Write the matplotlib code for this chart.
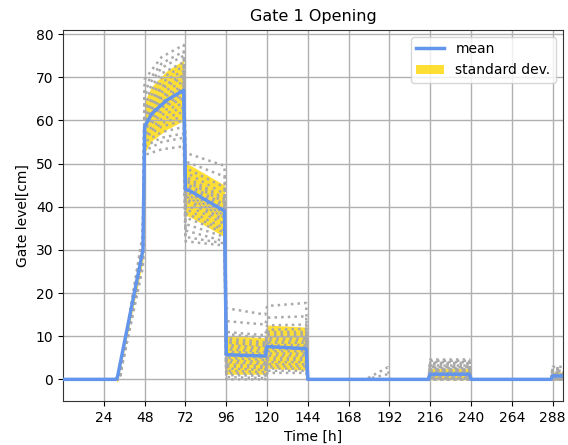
import matplotlib
matplotlib.use("Agg")
import matplotlib.pyplot as plt
from matplotlib.lines import Line2D
from matplotlib.patches import Patch

# -------------------------------
# Mean / standard deviation
# -------------------------------
mean_t = [0, 31, 32, 47, 48, 52, 61, 71, 72, 75, 95, 96, 97, 119, 120, 143, 144,
          215, 216, 239, 240, 287, 288, 294]
mean_v = [0, 0, 0.5, 30, 58.5, 61.5, 64.7, 67, 44, 43.6, 39, 5.8, 5.7, 5.4, 7.6, 7.1, 0,
          0, 1.2, 1.2, 0, 0, 0.8, 0.8]
std_v = [0, 0, 1.2, 2.5, 6, 6.3, 6.8, 7, 6, 6, 6, 4.5, 4.5, 4.2, 5, 5, 0,
         0, 1.3, 1.3, 0, 0, 0.9, 0.9]

# -------------------------------
# Individual scenarios (values at segment ends)
# -------------------------------
scen_t = [0, 33, 47, 48, 58, 71, 72, 95, 96, 119, 120, 143, 144,
          178, 191, 192, 215, 216, 239, 240, 287, 288, 294]

ramp_end = [26, 27, 27.5, 28, 28.5, 29, 29, 29.5, 30, 30, 30, 30.5,
            30.5, 31, 31, 31.5, 31.5, 32, 32, 32.5, 33, 33, 33.5, 34]
a_start = [52, 53, 54, 55, 56, 56.5, 57, 58, 58.5, 59, 59.5, 60,
           60.5, 61, 61.5, 62, 62.5, 63, 64, 65, 66, 67, 68, 69.5]
a_mid = [53.3, 55, 56, 57.3, 58.6, 59.4, 60.3, 61.3, 62.1, 63, 63.4, 63.9,
         64.4, 65.2, 65.7, 66.5, 67.4, 67.9, 68.9, 69.9, 70.9, 72.2, 73.2, 74.7]
a_end = [54, 56, 57, 58.5, 60, 61, 62, 63, 64, 65, 65.5, 66,
         66.5, 67.5, 68, 69, 70, 70.5, 71.5, 72.5, 73.5, 75, 76, 77.5]
b_start = [32, 33, 34.5, 36, 37.5, 38.5, 39.5, 40.5, 41.5, 42, 42.5, 43,
           43.5, 44, 44.5, 45, 45.5, 46, 46.5, 47, 48, 49, 50.5, 52.5]
b_end = [31, 31.5, 32, 33, 34, 34.5, 35, 36, 36.5, 37, 37.5, 38,
         38.5, 39, 39.5, 40, 40.5, 41, 41.5, 42, 43, 44.5, 47, 49.5]
c_start = [0, 0.5, 1, 1.5, 2, 2.5, 3, 3.5, 4, 4.5, 5, 5.5,
           6, 6.5, 7, 7.5, 8, 8.5, 9, 9.5, 10.5, 11, 13.5, 16.5]
c_end = [0, 0.3, 0.8, 1.2, 1.7, 2.2, 2.6, 3.1, 3.5, 4, 4.5, 5,
         5.4, 5.9, 6.3, 6.8, 7.3, 7.7, 8.2, 8.6, 9.6, 10.2, 12.7, 15]
d_start = [1.5, 2, 2.5, 3, 3.5, 4, 4.5, 5, 5.5, 6, 6.5, 7,
           7.5, 8, 8.5, 9, 9.5, 10, 10.5, 11, 11.5, 12.5, 14.3, 17]
d_end = [1.5, 2, 2.5, 3, 3.5, 4, 4.5, 5, 5.5, 6, 6.5, 7,
         7.5, 8, 8.5, 9, 9.5, 10, 10.5, 11, 11.7, 12.7, 14.6, 17.7]
bump = [0, 0, 0, 0, 0, 0, 0, 0, 0, 0, 0, 0,
        0, 0, 0, 0, 0, 0, 0, 0, 0, 0, 1.2, 2.8]
e_val = [0, 0, 0, 0.3, 0.5, 0.7, 0.9, 1, 1.2, 1.4, 1.6, 1.8,
         2, 2.2, 2.4, 2.6, 2.8, 3, 3.2, 3.5, 3.8, 4, 4.3, 4.6]
f_val = [0, 0, 0, 0, 0, 0.2, 0.3, 0.4, 0.5, 0.6, 0.7, 0.8,
         0.9, 1, 1.1, 1.2, 1.4, 1.6, 1.8, 2, 2.2, 2.4, 2.6, 2.9]

xticks = [24, 48, 72, 96, 120, 144, 168, 192, 216, 240, 264, 288]
yticks = [0, 10, 20, 30, 40, 50, 60, 70, 80]


def main():
    fig = plt.figure(figsize=(5.68, 4.45), dpi=100)
    ax = fig.add_axes([0.111, 0.099, 0.880, 0.834])

    lower = [m - s for m, s in zip(mean_v, std_v)]
    upper = [m + s for m, s in zip(mean_v, std_v)]
    ax.fill_between(mean_t, lower, upper, color="gold", alpha=0.8, lw=0, zorder=1)

    # one dotted line per scenario
    for i in range(len(ramp_end)):
        vals = [0, 0, ramp_end[i], a_start[i], a_mid[i], a_end[i],
                b_start[i], b_end[i], c_start[i], c_end[i], d_start[i], d_end[i], 0,
                0, bump[i], 0, 0, e_val[i], e_val[i], 0, 0, f_val[i], f_val[i]]
        ax.plot(scen_t, vals, color="darkgray", ls=":", lw=1.8, zorder=2)

    ax.plot(mean_t, mean_v, color="cornflowerblue", lw=2.5, zorder=3)

    ax.set_xlim(0, 294)
    ax.set_ylim(-5, 81)
    ax.set_xticks(xticks)
    ax.set_yticks(yticks)
    ax.grid(True, color="#b0b0b0", lw=1)
    for s in ax.spines.values():
        s.set_color("#333333")
    ax.tick_params(labelsize=10)
    ax.set_xlabel("Time [h]", fontsize=10)
    ax.set_ylabel("Gate level[cm]", fontsize=10)
    ax.set_title("Gate 1 Opening", fontsize=11.5)

    handles = [Line2D([], [], color="cornflowerblue", lw=2.5),
               Patch(facecolor="gold", alpha=0.8)]
    ax.legend(handles, ["mean", "standard dev."], loc="upper right", fontsize=10)

    plt.savefig("out.png", dpi=100)
    plt.close()


if __name__ == "__main__":
    main()
